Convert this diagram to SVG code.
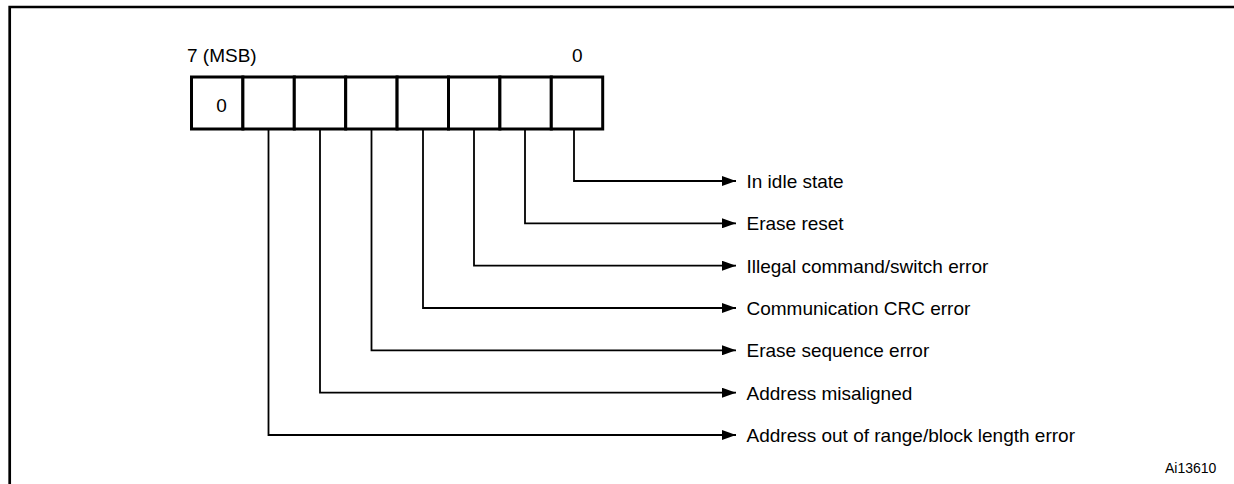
<svg xmlns="http://www.w3.org/2000/svg" width="1234" height="484" viewBox="0 0 1234 484">
<style>
text{font-family:"Liberation Sans",Arial,sans-serif;fill:#000}
.lbl{font-size:19px}
.cell{fill:#fff;stroke:#000;stroke-width:3}
.conn{fill:none;stroke:#000;stroke-width:1.8}
.frame{fill:none;stroke:#000;stroke-width:2.7}
</style>
<defs>
<marker id="arr" markerWidth="14" markerHeight="10" refX="14" refY="5" orient="auto" markerUnits="userSpaceOnUse">
<path d="M0,0 L14,5 L0,10 Z" fill="#000"/>
</marker>
</defs>
<rect width="1234" height="484" fill="#fff"/>
<path class="frame" d="M9.7,484 V7 H1234"/>
<g id="register">
<text class="lbl" x="187" y="62">7 (MSB)</text>
<text class="lbl" x="572" y="62">0</text>
<rect class="cell" x="191.5" y="77" width="51.4" height="52"/>
<rect class="cell" x="242.9" y="77" width="51.4" height="52"/>
<rect class="cell" x="294.3" y="77" width="51.4" height="52"/>
<rect class="cell" x="345.7" y="77" width="51.4" height="52"/>
<rect class="cell" x="397.1" y="77" width="51.4" height="52"/>
<rect class="cell" x="448.5" y="77" width="51.4" height="52"/>
<rect class="cell" x="499.9" y="77" width="51.4" height="52"/>
<rect class="cell" x="551.3" y="77" width="51.4" height="52"/>
<text class="lbl" x="221.5" y="112" text-anchor="middle">0</text>
</g>
<g id="connectors">
<path class="conn" d="M574,129 V181 H736" marker-end="url(#arr)"/>
<path class="conn" d="M525,129 V223.3 H736" marker-end="url(#arr)"/>
<path class="conn" d="M474,129 V265.7 H736" marker-end="url(#arr)"/>
<path class="conn" d="M423,129 V308 H736" marker-end="url(#arr)"/>
<path class="conn" d="M371.5,129 V350.3 H736" marker-end="url(#arr)"/>
<path class="conn" d="M320,129 V392.7 H736" marker-end="url(#arr)"/>
<path class="conn" d="M268.5,129 V435 H736" marker-end="url(#arr)"/>
</g>
<g id="labels">
<text class="lbl" x="746.5" y="188">In idle state</text>
<text class="lbl" x="746.5" y="230.3">Erase reset</text>
<text class="lbl" x="746.5" y="272.7">Illegal command/switch error</text>
<text class="lbl" x="746.5" y="315">Communication CRC error</text>
<text class="lbl" x="746.5" y="357.3">Erase sequence error</text>
<text class="lbl" x="746.5" y="399.7">Address misaligned</text>
<text class="lbl" x="746.5" y="442">Address out of range/block length error</text>
</g>
<text id="ref" x="1165" y="473" font-size="14">Ai13610</text>
</svg>
